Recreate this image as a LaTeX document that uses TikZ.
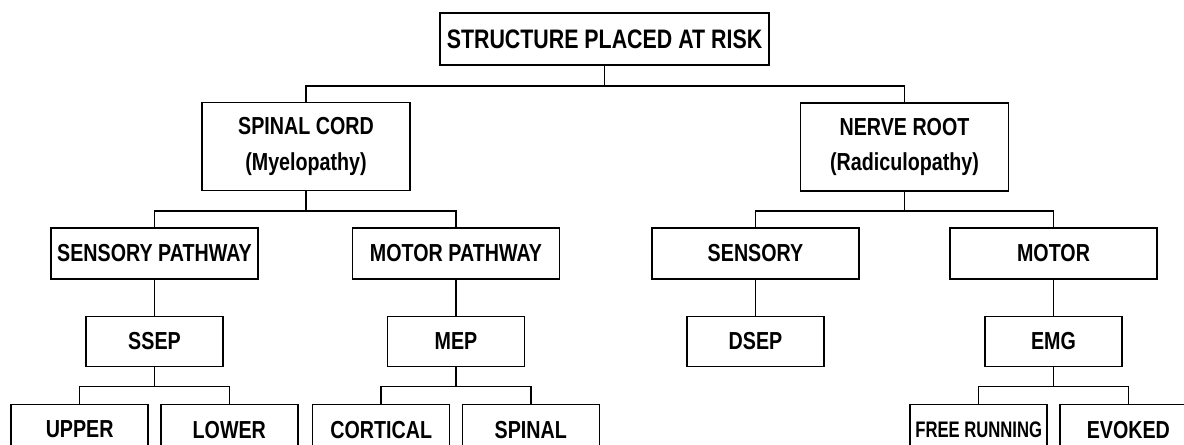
\documentclass[tikz,border=0pt]{standalone}
\usepackage{fontspec}
\newfontfamily\boxfont[FakeStretch=0.8]{Liberation Sans}
\newfontfamily\narrowfont[FakeStretch=0.74]{Liberation Sans}
\usetikzlibrary{shapes}

\begin{document}
\begin{tikzpicture}[x=0.025cm,y=-0.025cm,node distance=2.2cm]
      \tikzstyle{box}=[rectangle,draw=black,line width=1.1pt,inner sep=0pt,align=center,
        font=\boxfont\bfseries\fontsize{17.5}{25}\selectfont]
      \tikzstyle{head}=[box,minimum width=8.225cm,minimum height=1.3cm,
        font=\boxfont\bfseries\fontsize{19}{23}\selectfont]
      \tikzstyle{site}=[box,minimum width=5.2cm,minimum height=2.2cm]
      \tikzstyle{branch}=[box,minimum width=5.175cm,minimum height=1.275cm]
      \tikzstyle{test}=[box,minimum width=3.425cm,minimum height=1.25cm]
      \tikzstyle{wire}=[line width=1.1pt]

      \useasboundingbox (0,0) rectangle (1184,445);
      \clip (0,0) rectangle (1184,445);

      % top
      \node[head](risk) at (604.5,39) {STRUCTURE PLACED AT RISK};

      \node[site](cord) at (306,146.5) {SPINAL CORD\\(Myelopathy)};
      \node[site](root) at (904.5,147) {NERVE ROOT\\(Radiculopathy)};

      \draw[wire] (risk.south) -- ++(0,20) -| (cord.north);
      \draw[wire] (risk.south) -- ++(0,20) -| (root.north);

      % spinal cord side
      \begin{scope}
        \node[branch](sensp) at (154.5,253.5) {SENSORY PATHWAY};
        \node[branch](motp) at (456,253.5) {MOTOR PATHWAY};

        \node[test](ssep)[below of=sensp]{SSEP};
        \node[test](mep)[below of=motp]{MEP};

        \node[test](upper)[below of=ssep,xshift=-1.87cm]{UPPER};
        \node[test](lower)[below of=ssep,xshift=1.87cm]{LOWER};
        \node[test](cortical)[below of=mep,xshift=-1.87cm]{CORTICAL};
        \node[test](spinal)[below of=mep,xshift=1.87cm]{SPINAL};

        \draw[wire] (cord.south) -- ++(0,19.5) -| (sensp.north);
        \draw[wire] (cord.south) -- ++(0,19.5) -| (motp.north);
        \path[wire]
        (sensp) edge (ssep)
        (motp) edge (mep);
        \draw[wire] (ssep.south) -- ++(0,19) -| (upper.north);
        \draw[wire] (ssep.south) -- ++(0,19) -| (lower.north);
        \draw[wire] (mep.south) -- ++(0,19) -| (cortical.north);
        \draw[wire] (mep.south) -- ++(0,19) -| (spinal.north);
      \end{scope}

      % nerve root side
      \begin{scope}
        \node[branch](sens) at (755.5,253.5) {SENSORY};
        \node[branch](mot) at (1053.5,253.5) {MOTOR};

        \node[test](dsep)[below of=sens]{DSEP};
        \node[test](emg)[below of=mot]{EMG};

        \node[test,font=\narrowfont\bfseries\fontsize{16}{20}\selectfont](free)[below of=emg,xshift=-1.87cm]{FREE RUNNING};
        \node[test](evoked)[below of=emg,xshift=1.87cm]{EVOKED};

        \draw[wire] (root.south) -- ++(0,19) -| (sens.north);
        \draw[wire] (root.south) -- ++(0,19) -| (mot.north);
        \path[wire]
        (sens) edge (dsep)
        (mot) edge (emg);
        \draw[wire] (emg.south) -- ++(0,19) -| (free.north);
        \draw[wire] (emg.south) -- ++(0,19) -| (evoked.north);
      \end{scope}
    \end{tikzpicture}
\end{document}
